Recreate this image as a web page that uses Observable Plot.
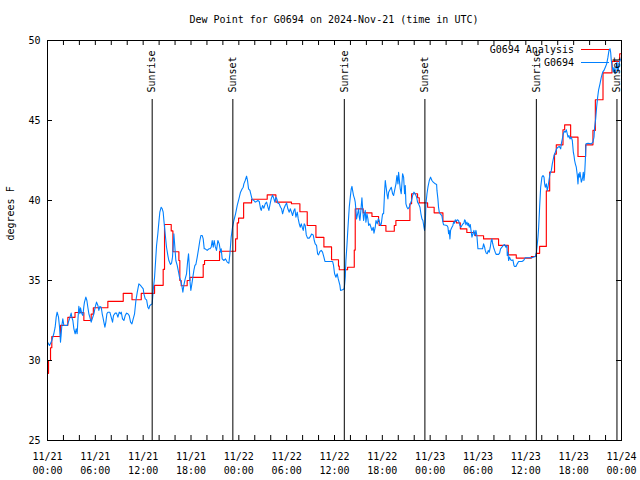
<!DOCTYPE html>
<html><head><meta charset="utf-8">
<script src="https://cdn.jsdelivr.net/npm/d3@7"></script>
<script src="https://cdn.jsdelivr.net/npm/@observablehq/plot@0.6"></script>
<style>
body{margin:0;background:#fff;}
#wrap{position:relative;width:640px;height:480px;overflow:hidden;background:#fff;font-family:"DejaVu Sans Mono",monospace;}
#title{position:absolute;top:14px;left:0;width:668px;text-align:center;font-size:10px;line-height:12px;color:#000;}
#plot{position:absolute;top:30px;left:0;}
#legend{position:absolute;top:0;left:0;}
</style></head><body>
<div id="wrap">
<div id="plot"></div>
<div id="title">Dew Point for G0694 on 2024-Nov-21 (time in UTC)</div>
<svg id="legend" width="640" height="480"></svg>
</div>
<script>
const startTime = Date.UTC(2024, 10, 21);
const seriesNames = ["G0694 Analysis", "G0694"];
const seriesColors = ["#ff0000", "#0080ff"];
const yTickValues = [25, 30, 35, 40, 45, 50];
const sunriseHours = [13.13, 37.23, 61.32];
const sunsetHours = [23.25, 47.34, 71.43];

// [hours since 11/21 00:00 UTC, degrees F]
const redSteps = [[0,29.2],[0.13,30.0],[0.38,30.8],[0.54,31.5],[1.63,32.2],[2.55,32.7],[3.45,33.0],[4.56,32.5],[5.48,32.9],[5.75,33.3],
[7.57,33.7],[9.5,34.2],[10.6,33.8],[11.76,34.2],[13.43,34.7],[14.51,35.7],[14.68,38.5],[15.52,38.1],[15.73,36.8],[16.48,36.25],
[16.6,35.0],[16.77,34.67],[17.52,35.0],[17.86,35.2],[19.53,36.0],[19.7,36.25],[21.58,36.83],[23.59,37.6],[23.8,38.6],[23.97,38.9],
[24.6,39.85],[25.6,40.08],[27.56,40.35],[28.65,39.9],[30.6,39.8],[31.66,39.3],[32.58,38.44],[33.67,37.7],[34.67,37.1],[35.63,36.3],
[36.5,35.9],[36.6,35.67],[37.64,35.83],[38.48,36.9],[38.6,39.48],[39.6,39.23],[40.7,39.0],[41.53,38.69],[41.6,38.44],[42.45,38.08],
[43.5,38.44],[43.7,38.75],[45.46,39.8],[45.67,40.42],[46.42,40.17],[46.63,39.85],[47.68,39.58],[48.5,39.23],[49.6,38.7],[51.3,38.6],
[51.78,38.23],[52.6,38.0],[53.66,37.8],[54.7,37.6],[56.58,37.2],[57.8,36.6],[58.8,36.4],[60.69,36.5],[61.31,36.7],[61.73,37.13],
[62.57,40.6],[62.99,41.77],[63.6,42.9],[63.82,43.48],[64.66,44.42],[64.87,44.73],[65.62,43.96],[66.54,42.75],[67.5,43.48],[68.42,44.38],
[68.72,46.3],[69.68,47.98],[70.81,48.7],[71.77,49.17],[72,49.17]];

const blueObs = [[0,31.15],[0.25,30.94],[0.46,31.15],[0.54,31.25],[0.79,31.67],[0.96,32.08],[1.09,32.71],[1.21,33.02],[1.38,32.71],[1.51,32.08],
[1.63,31.15],[1.72,31.67],[1.8,32.19],[1.92,32.6],[2.05,32.19],[2.47,32.19],[2.76,32.6],[2.97,32.96],[3.05,32.71],[3.18,32.5],
[3.31,31.98],[3.47,31.67],[3.6,31.98],[3.72,31.67],[3.81,32.5],[3.93,33.38],[4.06,32.92],[4.14,33.29],[4.31,32.92],[4.44,32.81],
[4.56,33.38],[4.64,33.65],[4.81,33.96],[4.94,33.75],[5.06,33.33],[5.19,32.92],[5.31,32.71],[5.48,32.4],[5.61,32.6],[5.82,32.92],
[5.98,33.33],[6.15,33.65],[6.32,33.44],[6.44,33.13],[6.57,33.38],[6.74,33.33],[6.86,32.92],[6.95,32.71],[7.07,32.4],[7.2,32.08],
[7.32,32.4],[7.45,32.92],[7.57,33.02],[7.82,33.02],[7.99,32.71],[8.16,32.4],[8.28,32.81],[8.49,32.96],[8.66,32.96],[8.83,32.71],
[9.0,33.02],[9.16,32.92],[9.25,33.02],[9.41,32.6],[9.58,32.5],[9.75,32.81],[9.92,32.96],[10.08,32.92],[10.25,32.81],[10.42,32.4],
[10.59,32.29],[10.75,32.6],[10.92,32.92],[11.09,33.75],[11.26,34.27],[11.46,34.79],[11.67,34.69],[11.84,34.58],[12.01,34.48],[12.09,34.17],
[12.26,33.85],[12.43,33.79],[12.59,33.33],
[12.71,33.23],[12.84,33.44],[13.01,33.5],[13.13,33.54],[13.26,34.38],[13.43,35.2],[13.55,36.15],[13.68,37.19],[13.84,37.92],[13.97,38.65],
[14.09,39.27],[14.26,39.58],[14.39,39.48],[14.51,39.27],[14.6,38.75],[14.76,37.92],[14.93,37.08],[15.1,36.56],[15.22,36.25],[15.43,36.0],
[15.56,36.08],[15.68,36.46],[15.77,37.19],[15.85,37.92],[15.93,37.4],[16.02,36.77],[16.1,36.25],[16.27,35.94],[16.44,35.52],[16.56,35.2],
[16.69,35.0],[16.85,34.69],[16.98,34.27],[17.1,34.69],[17.27,35.1],[17.44,35.42],[17.57,36.15],[17.69,36.67],[17.77,36.04],[17.86,35.0],
[17.98,34.38],[18.11,34.79],[18.23,35.2],[18.36,35.63],[18.49,35.94],[18.61,36.0],[18.78,36.46],[18.95,36.98],[19.11,37.5],[19.24,37.81],
[19.41,37.81],[19.53,37.6],[19.66,36.98],[19.78,36.98],[20.03,36.88],[20.24,36.98],[20.37,36.98],[20.53,37.08],[20.66,37.5],[20.79,37.08],
[20.91,37.5],[21.04,37.13],[21.2,36.88],[21.37,37.5],[21.54,37.29],[21.71,36.77],[21.79,36.98],[21.91,36.35],[22.12,36.25],[22.33,36.35],
[22.54,36.15],[22.75,36.08],[22.88,36.67],[23.04,37.71],[23.21,38.33],[23.38,38.75],[23.59,39.17],[23.8,39.69],[24.01,40.1],[24.21,40.52],
[24.42,40.73],[24.55,40.83],
[24.63,41.04],[24.8,41.25],[24.97,41.52],[25.09,41.25],[25.22,40.73],[25.39,40.63],[25.55,40.31],[25.68,40.04],[25.89,40.0],[26.06,39.9],
[26.22,39.94],[26.39,40.0],[26.56,39.94],[26.73,39.48],[26.81,39.38],[26.98,39.69],[27.14,39.52],[27.31,39.79],[27.48,39.9],[27.65,39.58],
[27.77,39.38],[27.9,39.73],[28.06,40.1],[28.23,40.35],[28.4,40.1],[28.52,39.9],[28.65,40.21],[28.77,40.1],[28.9,39.83],[29.07,39.79],
[29.23,39.58],[29.36,39.48],[29.49,39.17],[29.65,39.48],[29.82,39.69],[29.99,39.85],[30.15,39.48],[30.32,39.27],[30.45,39.48],[30.61,39.27],
[30.74,39.06],[30.91,39.38],[31.03,39.48],[31.16,38.96],[31.33,39.27],[31.45,38.85],[31.58,38.54],[31.7,38.33],[31.83,38.54],[31.95,38.33],
[32.08,38.13],[32.2,38.54],[32.33,38.44],[32.46,37.85],[32.62,37.65],[32.83,37.65],[33.0,37.77],[33.12,37.9],[33.33,37.85],[33.46,37.5],
[33.58,37.29],[33.75,37.19],[33.88,36.67],[34.0,36.6],[34.17,36.81],[34.34,36.88],[34.5,36.77],[34.67,36.46],[34.8,36.19],[35.42,36.19],
[35.76,36.19],[35.88,35.94],[36.01,35.42],[36.18,35.2],[36.34,35.42],[36.47,35.1],[36.68,34.69],[36.76,34.38],
[37.01,34.42],[37.22,34.48],[37.35,35.21],[37.43,36.25],[37.56,37.19],[37.68,38.23],[37.85,39.58],[37.98,40.21],[38.1,40.73],[38.19,40.88],
[38.27,40.63],[38.39,40.31],[38.52,40.1],[38.6,39.9],[38.69,39.38],[38.77,38.85],[38.9,39.17],[39.02,39.48],[39.11,38.96],[39.19,38.75],
[39.31,39.38],[39.44,40.17],[39.52,39.58],[39.65,38.75],[39.77,39.17],[39.86,39.38],[39.94,38.65],[40.07,39.17],[40.19,38.85],[40.28,38.44],
[40.44,38.54],[40.57,38.33],[40.69,38.13],[40.86,38.33],[40.95,37.96],[41.11,38.33],[41.2,38.75],[41.36,38.54],[41.49,38.85],[41.61,38.75],
[41.74,38.44],[41.87,38.54],[42.03,39.17],[42.16,39.17],[42.28,40.52],[42.37,41.25],[42.45,40.94],[42.58,40.42],[42.7,40.1],[42.79,40.52],
[42.95,40.67],[43.12,40.83],[43.29,40.42],[43.41,40.31],[43.54,40.63],[43.71,41.04],[43.83,41.56],[43.96,41.04],[44.04,41.77],[44.12,41.35],
[44.25,40.73],[44.37,40.42],[44.54,41.67],[44.67,41.46],[44.79,40.42],[44.88,40.94],[44.96,39.79],[45.09,39.58],[45.21,39.48],[45.38,39.58],
[45.5,39.79],[45.67,40.0],[45.8,40.31],[45.96,40.52],[46.13,40.42],[46.3,40.21],[46.42,39.9],[46.55,39.79],[46.72,39.58],[46.84,39.17],
[46.97,38.85],[47.09,38.75],[47.22,38.33],[47.3,38.13],[47.39,38.65],[47.47,39.79],[47.6,40.42],[47.72,40.83],[47.89,41.25],[48.05,41.46],
[48.22,41.25],[48.39,41.15],[48.64,41.04],[48.81,41.0],
[48.85,40.63],[48.97,40.1],[49.05,39.58],[49.14,39.27],[49.26,39.17],[49.47,39.06],[49.6,38.65],[49.68,38.48],[50.1,38.44],[50.23,38.33],
[50.31,37.92],[50.39,38.13],[50.48,37.6],[50.56,38.13],[50.64,38.23],[50.73,38.33],[50.85,38.44],[50.94,38.65],[51.06,38.58],[51.15,38.79],
[51.27,38.71],[51.4,38.79],[51.56,38.75],[51.65,38.58],[51.73,38.44],[51.86,38.33],[51.98,38.44],[52.11,38.54],[52.23,38.58],[52.32,38.79],
[52.4,38.75],[52.48,38.48],[52.61,38.65],[52.73,38.44],[52.82,38.58],[52.9,38.33],[53.03,38.5],[53.15,38.02],[53.24,37.71],[53.36,37.92],
[53.49,38.13],[53.57,37.81],[53.65,37.92],[53.74,38.13],[53.86,37.81],[53.99,36.98],[54.57,36.98],[54.7,37.29],[54.83,37.08],[54.91,36.88],
[55.03,36.71],[55.16,36.67],[55.29,36.88],[55.41,36.77],[55.54,37.08],[55.66,37.5],[55.75,37.6],[55.83,37.33],[55.95,37.08],[56.08,36.88],
[56.16,36.77],[56.29,36.63],[56.58,36.63],[56.71,36.71],[56.83,36.98],[57.0,37.08],[57.17,37.19],[57.33,37.25],[57.5,37.08],[57.63,37.19],
[57.67,36.56],[57.75,36.77],[57.84,36.25],[57.96,36.46],[58.09,36.29],[58.25,36.25],[58.38,36.29],[58.51,35.94],[58.59,35.88],[58.76,35.88],
[58.92,36.04],[59.09,36.19],[59.51,36.19],[59.72,36.25],[59.93,36.42],[60.76,36.42],
[61.19,36.5],[61.31,36.67],[61.44,37.29],[61.52,37.71],[61.61,38.33],[61.73,39.58],[61.86,40.83],[62.02,41.46],[62.15,41.56],[62.28,41.46],
[62.36,41.04],[62.44,40.83],[62.57,41.04],[62.69,40.63],[62.78,40.83],[62.9,41.25],[63.03,41.67],[63.2,41.88],[63.32,42.29],[63.45,42.6],
[63.53,42.81],[63.7,43.02],[63.86,43.23],[64.03,43.33],[64.2,43.38],[64.37,43.23],[64.45,43.54],[64.58,43.85],[64.7,44.17],[64.83,44.33],
[64.95,44.27],[65.08,44.42],[65.2,44.17],[65.29,43.96],[65.41,44.06],[65.54,43.85],[65.7,43.96],[65.83,43.75],[65.96,43.02],[66.04,42.81],
[66.12,42.5],[66.21,42.29],[66.33,42.08],[66.46,41.56],[66.54,41.04],[66.62,41.67],[66.71,41.46],[66.79,41.77],[66.88,41.46],[66.96,41.15],
[67.04,41.25],[67.13,41.46],[67.21,41.77],[67.29,41.25],[67.38,41.67],[67.46,42.5],[67.55,43.54],[67.8,43.58],[68.21,43.54],[68.42,43.65],
[68.55,43.96],[68.63,44.58],[68.76,45.1],[68.88,45.83],[69.01,46.46],[69.13,46.92],[69.3,47.29],[69.47,47.71],[69.64,48.02],[69.8,48.13],
[69.97,48.33],[70.14,48.54],[70.3,48.96],[70.43,49.38],[70.56,49.48],[70.64,49.27],[70.72,48.75],[70.85,48.33],[70.97,48.02],[71.06,48.33],
[71.18,47.92],[71.31,48.23],[71.43,48.65],[71.56,48.02],[71.68,48.54],[71.81,48.75],[71.98,48.85]];

const H = 3600e3;
const toDate = h => new Date(startTime + h * H);
const red = redSteps.map(([h, v]) => ({t: toDate(h), v}));
const blue = blueObs.map(([h, v]) => ({t: toDate(h), v}));
const sun = [
  ...sunriseHours.map(h => ({t: toDate(h), label: "Sunrise"})),
  ...sunsetHours.map(h => ({t: toDate(h), label: "Sunset"}))
];
const t0 = toDate(0), t1 = toDate(72);
const minorTicks = d3.utcHour.every(2).range(t0, new Date(+t1 + 1));
const labelTicks = d3.utcHour.every(6).range(t0, new Date(+t1 + 1));
const fmtA = d3.utcFormat("%m/%d"), fmtB = d3.utcFormat("%H:%M");

const W = 640, Ht = 450;
const mL = 47, mR = 19, mT = 10, mB = 40;
const fw = W - mL - mR, fh = Ht - mT - mB;
const tick = 5;

const chart = Plot.plot({
  width: W, height: Ht,
  marginLeft: mL, marginRight: mR, marginTop: mT, marginBottom: mB,
  style: {fontFamily: "DejaVu Sans Mono, monospace", fontSize: "10px", background: "white", color: "black", overflow: "visible"},
  x: {type: "utc", domain: [t0, t1], axis: null},
  y: {domain: [25, 50], axis: null},
  marks: [
    Plot.line(red, {x: "t", y: "v", curve: "step-after", stroke: seriesColors[0], strokeWidth: 1.15}),
    Plot.line(blue, {x: "t", y: "v", stroke: seriesColors[1], strokeWidth: 1.1}),
    Plot.ruleX(sun, {x: "t", stroke: "black", strokeWidth: 1, insetTop: 59}),
    Plot.text(sun, {x: "t", frameAnchor: "top", text: "label", rotate: -90, textAnchor: "start", lineAnchor: "middle", dy: 52, fill: "black"}),
    Plot.frame({stroke: "black", strokeWidth: 1}),
    Plot.tickX(minorTicks, {x: d => d, stroke: "black", insetTop: fh - tick}),
    Plot.tickX(minorTicks, {x: d => d, stroke: "black", insetBottom: fh - tick}),
    Plot.tickY(yTickValues, {y: d => d, stroke: "black", insetRight: fw - tick}),
    Plot.tickY(yTickValues, {y: d => d, stroke: "black", insetLeft: fw - tick}),
    Plot.text(yTickValues, {y: d => d, frameAnchor: "left", textAnchor: "end", dx: -7, text: d => String(d), fill: "black"}),
    Plot.text(labelTicks, {x: d => d, frameAnchor: "bottom", lineAnchor: "top", dy: 9, lineHeight: 1.45, text: d => fmtA(d) + "\n" + fmtB(d), fill: "black"}),
    Plot.text(["degrees F"], {frameAnchor: "left", dx: -37, rotate: -90, fill: "black"})
  ]
});
document.getElementById("plot").appendChild(chart);

// legend (top right, inside frame)
const lg = d3.select("#legend");
const rows = [49.5, 62.5];
seriesNames.forEach((name, i) => {
  lg.append("text").attr("x", 574).attr("y", rows[i]).attr("dy", "0.35em")
    .attr("text-anchor", "end").attr("font-family", "DejaVu Sans Mono, monospace")
    .attr("font-size", 10).attr("fill", "black").text(name);
  lg.append("line").attr("x1", 581).attr("x2", 609).attr("y1", rows[i]).attr("y2", rows[i])
    .attr("stroke", seriesColors[i]).attr("stroke-width", 1);
});
</script>
</body></html>
